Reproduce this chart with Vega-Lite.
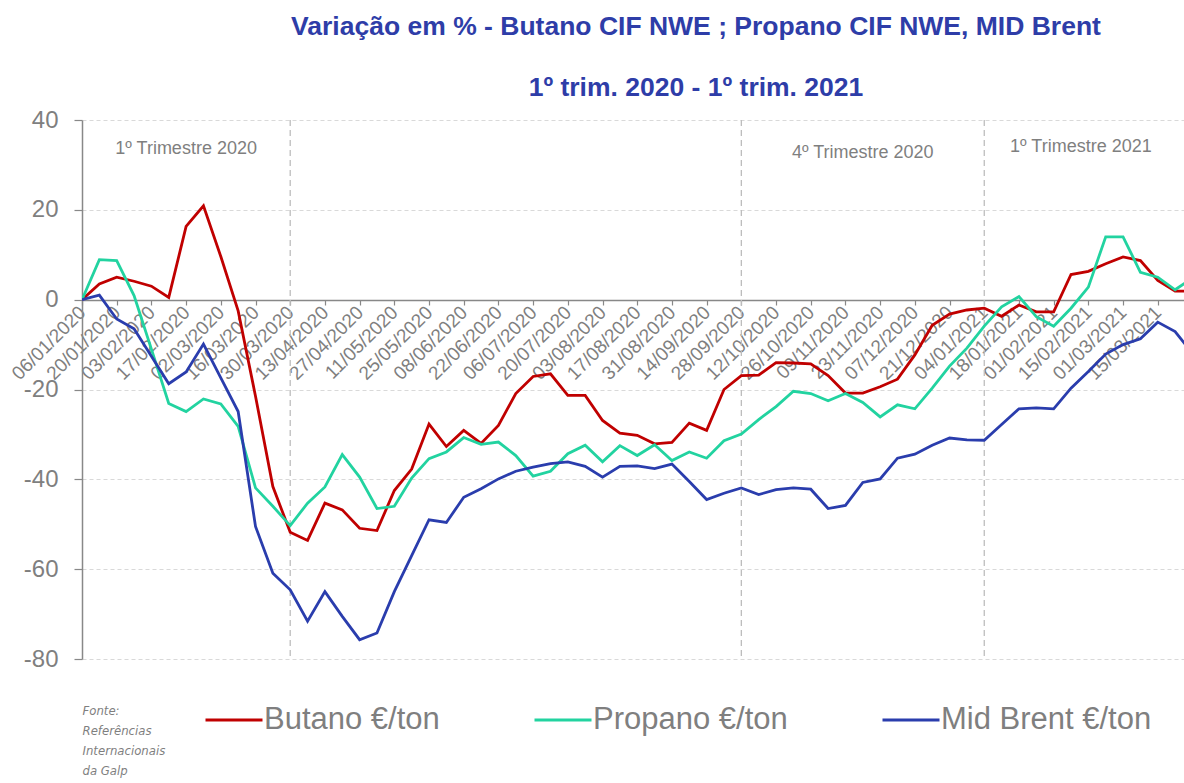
{
  "$schema": "https://vega.github.io/schema/vega-lite/v6.json",
  "width": 1102,
  "height": 539,
  "autosize": {"type": "none"},
  "padding": {"left": 82, "top": 120, "right": 0, "bottom": 124},
  "background": "white",
  "config": {"view": {"stroke": null}, "font": "Liberation Sans"},
  "title": {
    "text": ["Variação em % - Butano CIF NWE ; Propano CIF NWE, MID Brent", "1º trim. 2020 - 1º trim. 2021"],
    "fontSize": 26.5,
    "fontWeight": "bold",
    "color": "#2E3DA8",
    "lineHeight": 61,
    "anchor": "middle",
    "dx": 63,
    "offset": 7
  },
  "datasets": {
    "series": [
      {"d":"2020-01-06","s":"Butano €/ton","v":0},
      {"d":"2020-01-13","s":"Butano €/ton","v":3.5},
      {"d":"2020-01-20","s":"Butano €/ton","v":5.0},
      {"d":"2020-01-27","s":"Butano €/ton","v":4.1},
      {"d":"2020-02-03","s":"Butano €/ton","v":3.0},
      {"d":"2020-02-10","s":"Butano €/ton","v":0.5},
      {"d":"2020-02-17","s":"Butano €/ton","v":16.3},
      {"d":"2020-02-24","s":"Butano €/ton","v":20.9},
      {"d":"2020-03-02","s":"Butano €/ton","v":9.6},
      {"d":"2020-03-09","s":"Butano €/ton","v":-2.5},
      {"d":"2020-03-16","s":"Butano €/ton","v":-21.5},
      {"d":"2020-03-23","s":"Butano €/ton","v":-41.6},
      {"d":"2020-03-30","s":"Butano €/ton","v":-51.8},
      {"d":"2020-04-06","s":"Butano €/ton","v":-53.6},
      {"d":"2020-04-13","s":"Butano €/ton","v":-45.3},
      {"d":"2020-04-20","s":"Butano €/ton","v":-46.8},
      {"d":"2020-04-27","s":"Butano €/ton","v":-50.9},
      {"d":"2020-05-04","s":"Butano €/ton","v":-51.4},
      {"d":"2020-05-11","s":"Butano €/ton","v":-42.5},
      {"d":"2020-05-18","s":"Butano €/ton","v":-37.7},
      {"d":"2020-05-25","s":"Butano €/ton","v":-27.7},
      {"d":"2020-06-01","s":"Butano €/ton","v":-32.7},
      {"d":"2020-06-08","s":"Butano €/ton","v":-29.1},
      {"d":"2020-06-15","s":"Butano €/ton","v":-32.0},
      {"d":"2020-06-22","s":"Butano €/ton","v":-28.0},
      {"d":"2020-06-29","s":"Butano €/ton","v":-20.9},
      {"d":"2020-07-06","s":"Butano €/ton","v":-17.1},
      {"d":"2020-07-13","s":"Butano €/ton","v":-16.5},
      {"d":"2020-07-20","s":"Butano €/ton","v":-21.3},
      {"d":"2020-07-27","s":"Butano €/ton","v":-21.3},
      {"d":"2020-08-03","s":"Butano €/ton","v":-26.9},
      {"d":"2020-08-10","s":"Butano €/ton","v":-29.7},
      {"d":"2020-08-17","s":"Butano €/ton","v":-30.2},
      {"d":"2020-08-24","s":"Butano €/ton","v":-32.1},
      {"d":"2020-08-31","s":"Butano €/ton","v":-31.8},
      {"d":"2020-09-07","s":"Butano €/ton","v":-27.5},
      {"d":"2020-09-14","s":"Butano €/ton","v":-29.1},
      {"d":"2020-09-21","s":"Butano €/ton","v":-20.0},
      {"d":"2020-09-28","s":"Butano €/ton","v":-16.9},
      {"d":"2020-10-05","s":"Butano €/ton","v":-16.8},
      {"d":"2020-10-12","s":"Butano €/ton","v":-14.0},
      {"d":"2020-10-19","s":"Butano €/ton","v":-14.1},
      {"d":"2020-10-26","s":"Butano €/ton","v":-14.3},
      {"d":"2020-11-02","s":"Butano €/ton","v":-16.9},
      {"d":"2020-11-09","s":"Butano €/ton","v":-20.8},
      {"d":"2020-11-16","s":"Butano €/ton","v":-20.8},
      {"d":"2020-11-23","s":"Butano €/ton","v":-19.4},
      {"d":"2020-11-30","s":"Butano €/ton","v":-17.7},
      {"d":"2020-12-07","s":"Butano €/ton","v":-12.3},
      {"d":"2020-12-14","s":"Butano €/ton","v":-5.7},
      {"d":"2020-12-21","s":"Butano €/ton","v":-3.2},
      {"d":"2020-12-28","s":"Butano €/ton","v":-2.3},
      {"d":"2021-01-04","s":"Butano €/ton","v":-1.9},
      {"d":"2021-01-11","s":"Butano €/ton","v":-3.7},
      {"d":"2021-01-18","s":"Butano €/ton","v":-1.2},
      {"d":"2021-01-25","s":"Butano €/ton","v":-2.7},
      {"d":"2021-02-01","s":"Butano €/ton","v":-2.7},
      {"d":"2021-02-08","s":"Butano €/ton","v":5.6},
      {"d":"2021-02-15","s":"Butano €/ton","v":6.3},
      {"d":"2021-02-22","s":"Butano €/ton","v":8.0},
      {"d":"2021-03-01","s":"Butano €/ton","v":9.5},
      {"d":"2021-03-08","s":"Butano €/ton","v":8.7},
      {"d":"2021-03-15","s":"Butano €/ton","v":4.3},
      {"d":"2021-03-22","s":"Butano €/ton","v":1.9},
      {"d":"2021-03-29","s":"Butano €/ton","v":1.9},
      {"d":"2020-01-06","s":"Propano €/ton","v":0},
      {"d":"2020-01-13","s":"Propano €/ton","v":8.9},
      {"d":"2020-01-20","s":"Propano €/ton","v":8.7},
      {"d":"2020-01-27","s":"Propano €/ton","v":0.9},
      {"d":"2020-02-03","s":"Propano €/ton","v":-11.0},
      {"d":"2020-02-10","s":"Propano €/ton","v":-23.1},
      {"d":"2020-02-17","s":"Propano €/ton","v":-24.9},
      {"d":"2020-02-24","s":"Propano €/ton","v":-22.1},
      {"d":"2020-03-02","s":"Propano €/ton","v":-23.2},
      {"d":"2020-03-09","s":"Propano €/ton","v":-28.2},
      {"d":"2020-03-16","s":"Propano €/ton","v":-41.9},
      {"d":"2020-03-23","s":"Propano €/ton","v":-46.0},
      {"d":"2020-03-30","s":"Propano €/ton","v":-50.3},
      {"d":"2020-04-06","s":"Propano €/ton","v":-45.3},
      {"d":"2020-04-13","s":"Propano €/ton","v":-41.7},
      {"d":"2020-04-20","s":"Propano €/ton","v":-34.5},
      {"d":"2020-04-27","s":"Propano €/ton","v":-39.5},
      {"d":"2020-05-04","s":"Propano €/ton","v":-46.5},
      {"d":"2020-05-11","s":"Propano €/ton","v":-46.0},
      {"d":"2020-05-18","s":"Propano €/ton","v":-39.7},
      {"d":"2020-05-25","s":"Propano €/ton","v":-35.4},
      {"d":"2020-06-01","s":"Propano €/ton","v":-33.9},
      {"d":"2020-06-08","s":"Propano €/ton","v":-30.7},
      {"d":"2020-06-15","s":"Propano €/ton","v":-32.2},
      {"d":"2020-06-22","s":"Propano €/ton","v":-31.7},
      {"d":"2020-06-29","s":"Propano €/ton","v":-34.7},
      {"d":"2020-07-06","s":"Propano €/ton","v":-39.3},
      {"d":"2020-07-13","s":"Propano €/ton","v":-38.2},
      {"d":"2020-07-20","s":"Propano €/ton","v":-34.3},
      {"d":"2020-07-27","s":"Propano €/ton","v":-32.4},
      {"d":"2020-08-03","s":"Propano €/ton","v":-36.1},
      {"d":"2020-08-10","s":"Propano €/ton","v":-32.5},
      {"d":"2020-08-17","s":"Propano €/ton","v":-34.7},
      {"d":"2020-08-24","s":"Propano €/ton","v":-32.3},
      {"d":"2020-08-31","s":"Propano €/ton","v":-35.8},
      {"d":"2020-09-07","s":"Propano €/ton","v":-33.9},
      {"d":"2020-09-14","s":"Propano €/ton","v":-35.3},
      {"d":"2020-09-21","s":"Propano €/ton","v":-31.4},
      {"d":"2020-09-28","s":"Propano €/ton","v":-29.9},
      {"d":"2020-10-05","s":"Propano €/ton","v":-26.7},
      {"d":"2020-10-12","s":"Propano €/ton","v":-23.8},
      {"d":"2020-10-19","s":"Propano €/ton","v":-20.4},
      {"d":"2020-10-26","s":"Propano €/ton","v":-20.9},
      {"d":"2020-11-02","s":"Propano €/ton","v":-22.5},
      {"d":"2020-11-09","s":"Propano €/ton","v":-20.9},
      {"d":"2020-11-16","s":"Propano €/ton","v":-22.9},
      {"d":"2020-11-23","s":"Propano €/ton","v":-26.1},
      {"d":"2020-11-30","s":"Propano €/ton","v":-23.4},
      {"d":"2020-12-07","s":"Propano €/ton","v":-24.3},
      {"d":"2020-12-14","s":"Propano €/ton","v":-19.7},
      {"d":"2020-12-21","s":"Propano €/ton","v":-14.8},
      {"d":"2020-12-28","s":"Propano €/ton","v":-10.8},
      {"d":"2021-01-04","s":"Propano €/ton","v":-5.9},
      {"d":"2021-01-11","s":"Propano €/ton","v":-1.6},
      {"d":"2021-01-18","s":"Propano €/ton","v":0.7},
      {"d":"2021-01-25","s":"Propano €/ton","v":-3.8},
      {"d":"2021-02-01","s":"Propano €/ton","v":-5.9},
      {"d":"2021-02-08","s":"Propano €/ton","v":-1.9},
      {"d":"2021-02-15","s":"Propano €/ton","v":2.8},
      {"d":"2021-02-22","s":"Propano €/ton","v":14.0},
      {"d":"2021-03-01","s":"Propano €/ton","v":14.0},
      {"d":"2021-03-08","s":"Propano €/ton","v":6.1},
      {"d":"2021-03-15","s":"Propano €/ton","v":5.0},
      {"d":"2021-03-22","s":"Propano €/ton","v":2.2},
      {"d":"2021-03-29","s":"Propano €/ton","v":4.8},
      {"d":"2020-01-06","s":"Mid Brent €/ton","v":0},
      {"d":"2020-01-13","s":"Mid Brent €/ton","v":1.0},
      {"d":"2020-01-20","s":"Mid Brent €/ton","v":-4.3},
      {"d":"2020-01-27","s":"Mid Brent €/ton","v":-6.5},
      {"d":"2020-02-03","s":"Mid Brent €/ton","v":-12.6},
      {"d":"2020-02-10","s":"Mid Brent €/ton","v":-18.7},
      {"d":"2020-02-17","s":"Mid Brent €/ton","v":-16.1},
      {"d":"2020-02-24","s":"Mid Brent €/ton","v":-9.9},
      {"d":"2020-03-02","s":"Mid Brent €/ton","v":-17.4},
      {"d":"2020-03-09","s":"Mid Brent €/ton","v":-24.9},
      {"d":"2020-03-16","s":"Mid Brent €/ton","v":-50.5},
      {"d":"2020-03-23","s":"Mid Brent €/ton","v":-60.9},
      {"d":"2020-03-30","s":"Mid Brent €/ton","v":-64.6},
      {"d":"2020-04-06","s":"Mid Brent €/ton","v":-71.6},
      {"d":"2020-04-13","s":"Mid Brent €/ton","v":-65.0},
      {"d":"2020-04-20","s":"Mid Brent €/ton","v":-70.5},
      {"d":"2020-04-27","s":"Mid Brent €/ton","v":-75.7},
      {"d":"2020-05-04","s":"Mid Brent €/ton","v":-74.2},
      {"d":"2020-05-11","s":"Mid Brent €/ton","v":-65.0},
      {"d":"2020-05-18","s":"Mid Brent €/ton","v":-57.0},
      {"d":"2020-05-25","s":"Mid Brent €/ton","v":-49.0},
      {"d":"2020-06-01","s":"Mid Brent €/ton","v":-49.6},
      {"d":"2020-06-08","s":"Mid Brent €/ton","v":-44.0},
      {"d":"2020-06-15","s":"Mid Brent €/ton","v":-42.1},
      {"d":"2020-06-22","s":"Mid Brent €/ton","v":-39.9},
      {"d":"2020-06-29","s":"Mid Brent €/ton","v":-38.2},
      {"d":"2020-07-06","s":"Mid Brent €/ton","v":-37.3},
      {"d":"2020-07-13","s":"Mid Brent €/ton","v":-36.5},
      {"d":"2020-07-20","s":"Mid Brent €/ton","v":-36.1},
      {"d":"2020-07-27","s":"Mid Brent €/ton","v":-37.1},
      {"d":"2020-08-03","s":"Mid Brent €/ton","v":-39.5},
      {"d":"2020-08-10","s":"Mid Brent €/ton","v":-37.1},
      {"d":"2020-08-17","s":"Mid Brent €/ton","v":-37.0},
      {"d":"2020-08-24","s":"Mid Brent €/ton","v":-37.6},
      {"d":"2020-08-31","s":"Mid Brent €/ton","v":-36.6},
      {"d":"2020-09-07","s":"Mid Brent €/ton","v":-40.5},
      {"d":"2020-09-14","s":"Mid Brent €/ton","v":-44.5},
      {"d":"2020-09-21","s":"Mid Brent €/ton","v":-43.1},
      {"d":"2020-09-28","s":"Mid Brent €/ton","v":-41.9},
      {"d":"2020-10-05","s":"Mid Brent €/ton","v":-43.4},
      {"d":"2020-10-12","s":"Mid Brent €/ton","v":-42.3},
      {"d":"2020-10-19","s":"Mid Brent €/ton","v":-41.9},
      {"d":"2020-10-26","s":"Mid Brent €/ton","v":-42.2},
      {"d":"2020-11-02","s":"Mid Brent €/ton","v":-46.5},
      {"d":"2020-11-09","s":"Mid Brent €/ton","v":-45.8},
      {"d":"2020-11-16","s":"Mid Brent €/ton","v":-40.7},
      {"d":"2020-11-23","s":"Mid Brent €/ton","v":-39.9},
      {"d":"2020-11-30","s":"Mid Brent €/ton","v":-35.3},
      {"d":"2020-12-07","s":"Mid Brent €/ton","v":-34.4},
      {"d":"2020-12-14","s":"Mid Brent €/ton","v":-32.4},
      {"d":"2020-12-21","s":"Mid Brent €/ton","v":-30.8},
      {"d":"2020-12-28","s":"Mid Brent €/ton","v":-31.2},
      {"d":"2021-01-04","s":"Mid Brent €/ton","v":-31.3},
      {"d":"2021-01-11","s":"Mid Brent €/ton","v":-27.8},
      {"d":"2021-01-18","s":"Mid Brent €/ton","v":-24.3},
      {"d":"2021-01-25","s":"Mid Brent €/ton","v":-24.1},
      {"d":"2021-02-01","s":"Mid Brent €/ton","v":-24.3},
      {"d":"2021-02-08","s":"Mid Brent €/ton","v":-19.7},
      {"d":"2021-02-15","s":"Mid Brent €/ton","v":-16.0},
      {"d":"2021-02-22","s":"Mid Brent €/ton","v":-12.1},
      {"d":"2021-03-01","s":"Mid Brent €/ton","v":-10.0},
      {"d":"2021-03-08","s":"Mid Brent €/ton","v":-8.7},
      {"d":"2021-03-15","s":"Mid Brent €/ton","v":-5.0},
      {"d":"2021-03-22","s":"Mid Brent €/ton","v":-7.1},
      {"d":"2021-03-29","s":"Mid Brent €/ton","v":-12.0}
    ],
    "quarters": [
      {"d":"2020-03-30"},
      {"d":"2020-09-28"},
      {"d":"2021-01-04"}
    ],
    "labels": [
      {"d":"2020-02-17","v":33.6,"t":"1º Trimestre 2020"},
      {"d":"2020-11-16","v":32.6,"t":"4º Trimestre 2020"},
      {"d":"2021-02-12","v":34.0,"t":"1º Trimestre 2021"}
    ]
  },
  "encoding": {
    "x": {
      "field": "d",
      "type": "temporal",
      "title": null,
      "scale": {
        "type": "utc",
        "domain": [
          {"year": 2020, "month": 1, "date": 6, "utc": true},
          {"year": 2021, "month": 3, "date": 25, "hours": 14, "utc": true}
        ]
      },
      "axis": {
        "values": [
          {"year":2020,"month":1,"date":6,"utc":true},
          {"year":2020,"month":1,"date":20,"utc":true},
          {"year":2020,"month":2,"date":3,"utc":true},
          {"year":2020,"month":2,"date":17,"utc":true},
          {"year":2020,"month":3,"date":2,"utc":true},
          {"year":2020,"month":3,"date":16,"utc":true},
          {"year":2020,"month":3,"date":30,"utc":true},
          {"year":2020,"month":4,"date":13,"utc":true},
          {"year":2020,"month":4,"date":27,"utc":true},
          {"year":2020,"month":5,"date":11,"utc":true},
          {"year":2020,"month":5,"date":25,"utc":true},
          {"year":2020,"month":6,"date":8,"utc":true},
          {"year":2020,"month":6,"date":22,"utc":true},
          {"year":2020,"month":7,"date":6,"utc":true},
          {"year":2020,"month":7,"date":20,"utc":true},
          {"year":2020,"month":8,"date":3,"utc":true},
          {"year":2020,"month":8,"date":17,"utc":true},
          {"year":2020,"month":8,"date":31,"utc":true},
          {"year":2020,"month":9,"date":14,"utc":true},
          {"year":2020,"month":9,"date":28,"utc":true},
          {"year":2020,"month":10,"date":12,"utc":true},
          {"year":2020,"month":10,"date":26,"utc":true},
          {"year":2020,"month":11,"date":9,"utc":true},
          {"year":2020,"month":11,"date":23,"utc":true},
          {"year":2020,"month":12,"date":7,"utc":true},
          {"year":2020,"month":12,"date":21,"utc":true},
          {"year":2021,"month":1,"date":4,"utc":true},
          {"year":2021,"month":1,"date":18,"utc":true},
          {"year":2021,"month":2,"date":1,"utc":true},
          {"year":2021,"month":2,"date":15,"utc":true},
          {"year":2021,"month":3,"date":1,"utc":true},
          {"year":2021,"month":3,"date":15,"utc":true},
          {"year":2021,"month":3,"date":29,"utc":true}
        ],
        "labelExpr": "utcFormat(datum.value, '%d/%m/%Y')",
        "offset": -359,
        "grid": false,
        "domainColor": "#888888",
        "domainWidth": 1.5,
        "tickColor": "#888888",
        "tickSize": 5,
        "tickWidth": 1.2,
        "labelAngle": -45,
        "labelAlign": "right",
        "labelBaseline": "middle",
        "labelFontSize": 19,
        "labelColor": "#7f7f7f",
        "labelPadding": 4,
        "labelOverlap": false,
        "labelFlush": false
      }
    }
  },
  "layer": [
    {
      "data": {"name": "quarters"},
      "mark": {"type": "rule", "color": "#bdbdbd", "strokeDash": [6, 4], "strokeWidth": 1.3},
      "encoding": {}
    },
    {
      "data": {"name": "series"},
      "mark": {"type": "line", "strokeWidth": 2.8, "clip": true},
      "encoding": {
        "y": {
          "field": "v",
          "type": "quantitative",
          "scale": {"domain": [-80, 40], "nice": false, "zero": false},
          "axis": {
            "values": [-80, -60, -40, -20, 0, 20, 40],
            "labelExpr": "'' + datum.value",
            "grid": true,
            "gridDash": [4, 3],
            "gridColor": "#d9d9d9",
            "gridWidth": 1,
            "domainColor": "#888888",
            "domainWidth": 1.5,
            "tickColor": "#888888",
            "tickSize": 8,
            "tickWidth": 1.2,
            "labelFontSize": 24,
            "labelColor": "#7f7f7f",
            "labelPadding": 16,
            "title": ["Fonte:", "Referências", "Internacionais", "da Galp"],
            "titleAngle": 0,
            "titleX": 0,
            "titleY": 584,
            "titleAlign": "left",
            "titleBaseline": "top",
            "titleFont": "Liberation Sans Narrow, DejaVu Sans Condensed, Liberation Sans",
            "titleFontStyle": "italic",
            "titleFontWeight": "normal",
            "titleFontSize": 13,
            "titleLineHeight": 20.3,
            "titleColor": "#7f7f7f"
          }
        },
        "color": {
          "field": "s",
          "type": "nominal",
          "scale": {
            "domain": ["Butano €/ton", "Propano €/ton", "Mid Brent €/ton"],
            "range": ["#C00000", "#22D3A0", "#2A3DAD"]
          },
          "legend": {
            "title": null,
            "orient": "none",
            "legendX": 122,
            "legendY": 570,
            "direction": "horizontal",
            "symbolType": "stroke",
            "symbolSize": 3249,
            "symbolStrokeWidth": 3,
            "labelFontSize": 31,
            "labelColor": "#7f7f7f",
            "labelOffset": 0,
            "columnPadding": 88,
            "padding": 0,
            "labelLimit": 400
          }
        }
      }
    },
    {
      "data": {"name": "labels"},
      "mark": {"type": "text", "fontSize": 18, "color": "#7f7f7f", "align": "center", "baseline": "middle"},
      "encoding": {
        "y": {"field": "v", "type": "quantitative"},
        "text": {"field": "t", "type": "nominal"}
      }
    }
  ]
}
